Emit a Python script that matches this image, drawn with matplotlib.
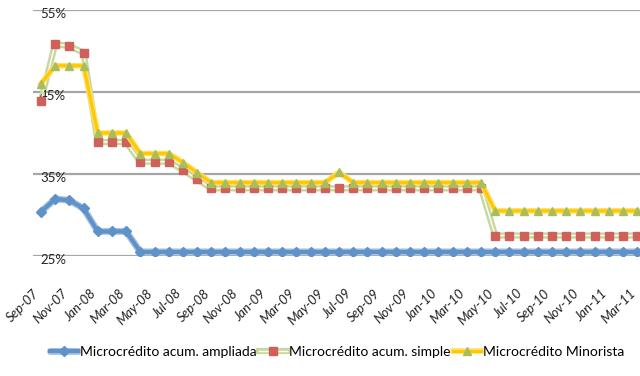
import pandas as pd
import matplotlib
matplotlib.use("Agg")
import matplotlib.pyplot as plt
from matplotlib.legend_handler import HandlerTuple
from matplotlib.transforms import ScaledTranslation

plt.rcParams['font.family'] = ['Lato', 'DejaVu Sans']

# DATA (monthly, Sep-07 .. Mar-11), values in %
months = pd.date_range("2007-09-01", "2011-03-01", freq="MS")
month_labels = [m.strftime("%b-%y") for m in months]

ampliada = [30.4, 31.95, 31.8, 30.8, 28.0, 28.0, 28.0, 25.5, 25.5, 25.5,
            25.5, 25.5, 25.5, 25.5, 25.5, 25.5, 25.5, 25.5, 25.5, 25.5,
            25.5, 25.5, 25.5, 25.5, 25.5, 25.5, 25.5, 25.5, 25.5, 25.5,
            25.5, 25.5, 25.5, 25.5, 25.5, 25.5, 25.5, 25.5, 25.5, 25.5,
            25.5, 25.5, 25.5]
simple = [43.9, 50.85, 50.6, 49.8, 38.9, 38.9, 38.9, 36.5, 36.5, 36.5,
          35.5, 34.35, 33.25, 33.25, 33.25, 33.25, 33.25, 33.25, 33.25, 33.25,
          33.25, 33.25, 33.25, 33.25, 33.25, 33.25, 33.25, 33.25, 33.25, 33.25,
          33.25, 33.25, 27.5, 27.5, 27.5, 27.5, 27.5, 27.5, 27.5, 27.5,
          27.5, 27.5, 27.5]
minorista = [46.0, 48.2, 48.2, 48.2, 40.0, 40.0, 40.0, 37.5, 37.5, 37.5,
             36.4, 35.15, 33.95, 33.95, 33.95, 33.95, 33.95, 33.95, 33.95, 33.95,
             33.95, 35.2, 33.95, 33.95, 33.95, 33.95, 33.95, 33.95, 33.95, 33.95,
             33.95, 33.95, 30.5, 30.5, 30.5, 30.5, 30.5, 30.5, 30.5, 30.5,
             30.5, 30.5, 30.5]
series_names = ["Microcrédito acum. ampliada", "Microcrédito acum. simple",
                "Microcrédito Minorista"]
y_ticks = [25, 35, 45, 55]

x = list(range(len(months)))

fig = plt.figure(figsize=(6.4, 3.76), dpi=100)
ax = fig.add_axes([33/640, 1 - 256/376, 1 - 33/640, (256 - 10)/376])

# gridlines
for v in y_ticks:
    ax.axhline(v, color="#a6a6a6", lw=1.6, zorder=1)

# blue series
b_out, = ax.plot(x, ampliada, color="#a9c4e2", lw=5, zorder=2, solid_capstyle="round")
b_in, = ax.plot(x, ampliada, color="#5f92c9", lw=3, zorder=2.1)
b_mk, = ax.plot(x, ampliada, ls="none", marker="D", ms=5, color="#5f92c9", zorder=2.2)

# simple series (green double line, red squares)
s_out, = ax.plot(x, simple, color="#c6d99c", lw=4.5, zorder=3)
s_in, = ax.plot(x, simple, color="white", lw=1.0, zorder=3.1)
s_mk, = ax.plot(x, simple, ls="none", marker="s", ms=5.5, color="#d0605a", zorder=3.2)

# minorista series (yellow line, green triangles)
m_out, = ax.plot(x, minorista, color="#ffe066", lw=4.0, zorder=4)
m_in, = ax.plot(x, minorista, color="#ffc800", lw=2.2, zorder=4.1)
m_mk, = ax.plot(x, minorista, ls="none", marker="^", ms=6, color="#a9bd5e", zorder=4.2)

ax.set_xlim(-0.56, 42.2)
ax.set_ylim(25, 55)
ax.set_xticks(x[::2])
ax.set_xticklabels(month_labels[::2], rotation=45, ha="right", va="top",
                   rotation_mode="anchor", fontstyle="italic", fontsize=9.5,
                   color="#222222")
ax.tick_params(axis="x", length=0)
# place month labels well below the axis, ending just left of their tick
lab_trans = ax.get_xaxis_transform() + ScaledTranslation(-8/100, -31/100, fig.dpi_scale_trans)
for lab in ax.get_xticklabels():
    lab.set_transform(lab_trans)
ax.set_yticks([])
for s in ax.spines.values():
    s.set_visible(False)

# y labels drawn inside the plot, just under each gridline
for v in y_ticks:
    ax.annotate(f"{v}%", xy=(7/607, v), xycoords=("axes fraction", "data"),
                xytext=(0, -3), textcoords="offset points",
                ha="left", va="center", fontsize=9.5, color="#222222")

fig.legend([(b_out, b_in, b_mk), (s_out, s_in, s_mk), (m_out, m_in, m_mk)],
           series_names, handler_map={tuple: HandlerTuple(ndivide=1)},
           loc="center", bbox_to_anchor=(0.527, 1 - 352/376), ncol=3,
           frameon=False, fontsize=10, handlelength=2.0, handletextpad=0.15,
           columnspacing=0.2)

fig.savefig("out.png", dpi=100)
